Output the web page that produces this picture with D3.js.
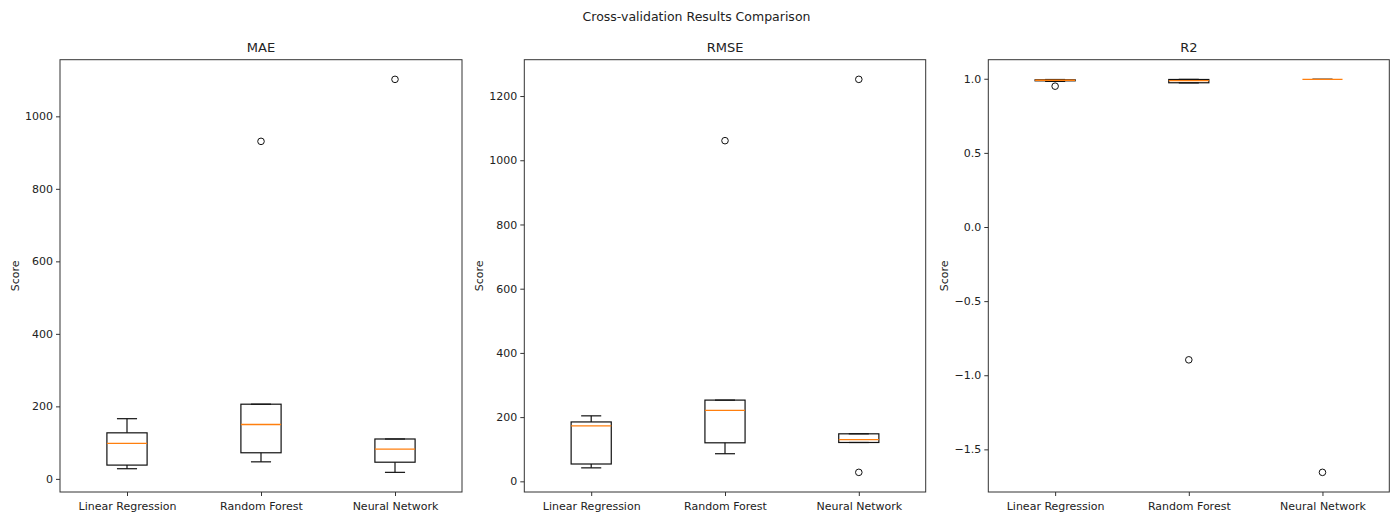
<!DOCTYPE html>
<html>
<head>
<meta charset="utf-8">
<script src="https://cdn.jsdelivr.net/npm/d3@7"></script>
<style>
  body { margin: 0; background: #fff; }
  svg { font-family: "DejaVu Sans", sans-serif; }
</style>
</head>
<body>
<div id="container"></div>
<script>
const models = ["Linear Regression", "Random Forest", "Neural Network"]
const metrics = ["MAE", "RMSE", "R2"]

// [whisker low, q1, median, q3, whisker high] per model
const maeStats = [[28, 38, 98, 127, 166], [47, 72, 150, 206, 206], [18, 46, 82, 110, 110]]
const maeFliers = [[], [931], [1102]]
const maeTicks = [0, 200, 400, 600, 800, 1000]

const rmseStats = [[42, 54, 173, 185, 204], [86, 120, 221, 253, 253], [121, 121, 130, 148, 148]]
const rmseFliers = [[], [1061], [28, 1252]]
const rmseTicks = [0, 200, 400, 600, 800, 1000, 1200]

const r2Stats = [[0.982, 0.986, 0.99, 0.993, 0.995], [0.972, 0.973, 0.988, 0.995, 0.996], [0.996, 0.996, 0.996, 0.996, 0.996]]
const r2Fliers = [[0.95], [-0.896], [-1.655]]
const r2Ticks = [-1.5, -1.0, -0.5, 0.0, 0.5, 1.0]

const width = 1393
const height = 517

const panels = [
  {name: metrics[0], stats: maeStats, fliers: maeFliers, ticks: maeTicks, fmt: d3.format("d"), left: 60, right: 462, labelX: 15},
  {name: metrics[1], stats: rmseStats, fliers: rmseFliers, ticks: rmseTicks, fmt: d3.format("d"), left: 524.3, right: 925.7, labelX: 479},
  {name: metrics[2], stats: r2Stats, fliers: r2Fliers, ticks: r2Ticks, fmt: d3.format(".1f"), left: 988.3, right: 1389.3, labelX: 944}
]
const plotTop = 59.7
const plotBottom = 492

const svg = d3.select("#container")
  .append("svg")
  .attr("width", width)
  .attr("height", height)

svg.append("text")
  .attr("x", width / 2)
  .attr("y", 21)
  .attr("text-anchor", "middle")
  .attr("font-size", 12.5)
  .attr("fill", "#222")
  .text("Cross-validation Results Comparison")

panels.forEach(p => {
  const all = p.stats.flat().concat(p.fliers.flat())
  const lo = d3.min(all), hi = d3.max(all)
  const pad = (hi - lo) * 0.05

  const y = d3.scaleLinear().domain([lo - pad, hi + pad]).range([plotBottom, plotTop])
  const x = d3.scaleLinear().domain([0.5, 3.5]).range([p.left, p.right])
  const boxW = x(1.3) - x(1)
  const capW = boxW / 2

  const g = svg.append("g")

  // axes
  const yAxis = d3.axisLeft(y).tickValues(p.ticks).tickFormat(p.fmt).tickSize(4).tickPadding(3)
  const xAxis = d3.axisBottom(x).tickValues([1, 2, 3]).tickFormat((d, i) => models[i]).tickSize(4).tickPadding(6)

  g.append("g").attr("transform", `translate(${p.left},0)`).call(yAxis)
  g.append("g").attr("transform", `translate(0,${plotBottom})`).call(xAxis)
  g.selectAll(".domain").remove()
  g.selectAll(".tick line").attr("stroke", "#333")
  g.selectAll(".tick text").attr("font-size", 11).attr("fill", "#222").attr("font-family", "DejaVu Sans, sans-serif")

  g.append("rect")
    .attr("x", p.left).attr("y", plotTop)
    .attr("width", p.right - p.left).attr("height", plotBottom - plotTop)
    .attr("fill", "none").attr("stroke", "#333").attr("stroke-width", 1)

  g.append("text")
    .attr("x", (p.left + p.right) / 2)
    .attr("y", plotTop - 8)
    .attr("text-anchor", "middle")
    .attr("font-size", 13)
    .attr("fill", "#222")
    .text(p.name)

  g.append("text")
    .attr("transform", `translate(${p.labelX},${(plotTop + plotBottom) / 2}) rotate(-90)`)
    .attr("text-anchor", "middle")
    .attr("dy", "0.35em")
    .attr("font-size", 11)
    .attr("fill", "#222")
    .text("Score")

  const boxes = g.selectAll(".box")
    .data(p.stats)
    .enter()
    .append("g")
    .attr("class", "box")

  // whiskers
  boxes.append("line")
    .attr("x1", (d, i) => x(i + 1)).attr("x2", (d, i) => x(i + 1))
    .attr("y1", d => y(d[0])).attr("y2", d => y(d[1]))
    .attr("stroke", "#111").attr("stroke-width", 1.2)
  boxes.append("line")
    .attr("x1", (d, i) => x(i + 1)).attr("x2", (d, i) => x(i + 1))
    .attr("y1", d => y(d[3])).attr("y2", d => y(d[4]))
    .attr("stroke", "#111").attr("stroke-width", 1.2)
  // caps
  boxes.append("line")
    .attr("x1", (d, i) => x(i + 1) - capW / 2).attr("x2", (d, i) => x(i + 1) + capW / 2)
    .attr("y1", d => y(d[0])).attr("y2", d => y(d[0]))
    .attr("stroke", "#111").attr("stroke-width", 1.2)
  boxes.append("line")
    .attr("x1", (d, i) => x(i + 1) - capW / 2).attr("x2", (d, i) => x(i + 1) + capW / 2)
    .attr("y1", d => y(d[4])).attr("y2", d => y(d[4]))
    .attr("stroke", "#111").attr("stroke-width", 1.2)
  // box
  boxes.append("rect")
    .attr("x", (d, i) => x(i + 1) - boxW / 2)
    .attr("y", d => y(d[3]))
    .attr("width", boxW)
    .attr("height", d => y(d[1]) - y(d[3]))
    .attr("fill", "none").attr("stroke", "#111").attr("stroke-width", 1.2)
  // median
  boxes.append("line")
    .attr("x1", (d, i) => x(i + 1) - boxW / 2).attr("x2", (d, i) => x(i + 1) + boxW / 2)
    .attr("y1", d => y(d[2])).attr("y2", d => y(d[2]))
    .attr("stroke", "#ff7f0e").attr("stroke-width", 1.3)

  // fliers
  p.fliers.forEach((fl, i) => {
    g.selectAll(null)
      .data(fl)
      .enter()
      .append("circle")
      .attr("cx", x(i + 1))
      .attr("cy", d => y(d))
      .attr("r", 3.3)
      .attr("fill", "none")
      .attr("stroke", "#111")
      .attr("stroke-width", 1)
  })
})
</script>
</body>
</html>
